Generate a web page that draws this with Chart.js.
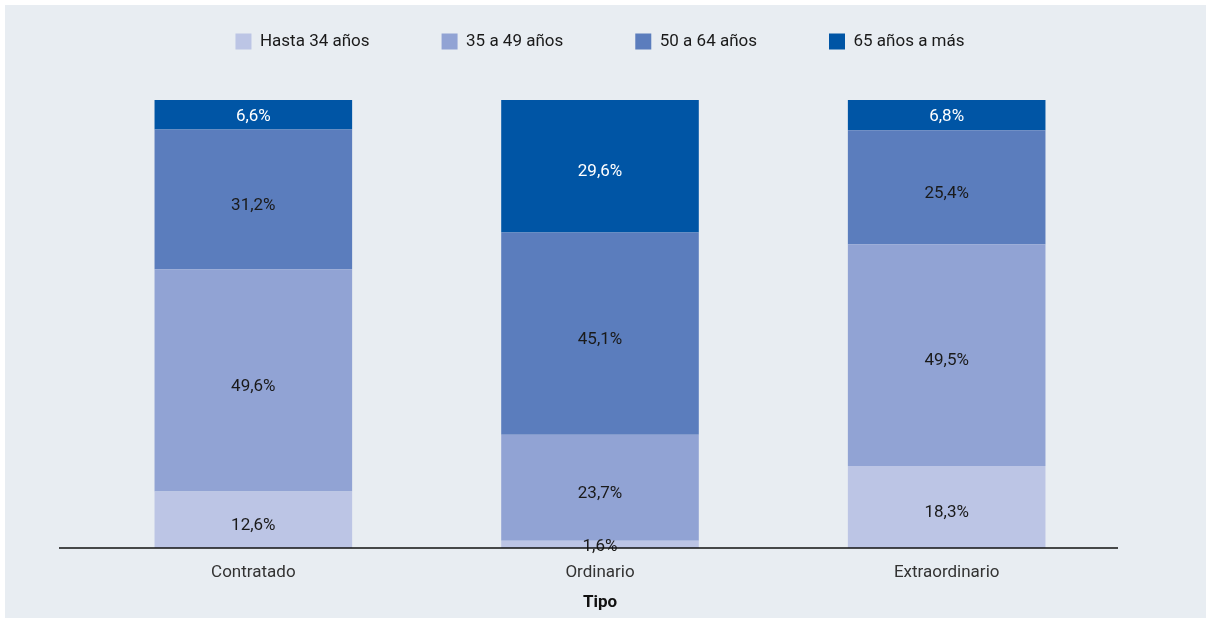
<!DOCTYPE html>
<html>
<head>
<meta charset="utf-8">
<script src="https://cdn.jsdelivr.net/npm/chart.js@4"></script>
<style>
    html, body { margin: 0; padding: 0; background: #fff; }
    #wrap { position: absolute; left: 5px; top: 5px; width: 1201px; height: 613px; background: #e8edf2; }
</style>
</head>
<body>
<div id="wrap"><canvas id="chart.area"></canvas></div>
<script>
const categories = ['Contratado', 'Ordinario', 'Extraordinario'];
const seriesNames = ['Hasta 34 años', '35 a 49 años', '50 a 64 años', '65 años a más'];
const hasta34 = [12.6, 1.6, 18.3];
const de35a49 = [49.6, 23.7, 49.5];
const de50a64 = [31.2, 45.1, 25.4];
const de65mas = [6.6, 29.6, 6.8];
const colors = ['#bcc5e5', '#91a3d4', '#5b7dbd', '#0055a5'];

const FONT = 'Roboto, "Noto Sans", sans-serif';

// labels inside each segment
const segmentLabels = {
    id: 'segmentLabels',
    afterDatasetsDraw(chart) {
        const ctx = chart.ctx;
        ctx.save();
        ctx.font = '17px ' + FONT;
        ctx.textAlign = 'center';
        ctx.textBaseline = 'middle';
        chart.data.datasets.forEach((ds, i) => {
            const meta = chart.getDatasetMeta(i);
            meta.data.forEach((bar, j) => {
                const v = ds.data[j];
                ctx.fillStyle = i === 3 ? '#ffffff' : '#1a1a1a';
                const h = Math.abs(bar.base - bar.y);
                const y = (bar.y + bar.base) / 2 + (h > 40 ? 6 : 2);
                ctx.fillText(v.toFixed(1).replace('.', ',') + '%', bar.x, y);
            });
        });
        ctx.restore();
    }
};

// baseline a bit wider than the bars area
const baseLine = {
    id: 'baseLine',
    afterDraw(chart) {
        const a = chart.chartArea;
        const ctx = chart.ctx;
        ctx.save();
        ctx.strokeStyle = '#111';
        ctx.lineWidth = 1.5;
        ctx.beginPath();
        ctx.moveTo(a.left - 21, a.bottom);
        ctx.lineTo(a.right - 2, a.bottom);
        ctx.stroke();
        ctx.restore();
    }
};

const seriesData = [hasta34, de35a49, de50a64, de65mas];

const config = {
    type: 'bar',
    data: {
        labels: categories,
        datasets: seriesNames.map((name, i) => ({
            label: name,
            data: seriesData[i],
            backgroundColor: colors[i],
            borderWidth: 0,
            categoryPercentage: 1,
            barPercentage: 0.57
        }))
    },
    options: {
        responsive: true,
        maintainAspectRatio: false,
        animation: false,
        layout: {
            padding: { left: 75, right: 86, top: -44, bottom: 7 }
        },
        plugins: {
            legend: {
                position: 'top',
                labels: {
                    boxWidth: 16,
                    boxHeight: 16,
                    padding: 72,
                    color: '#1a1a1a',
                    font: { family: FONT, size: 17 }
                }
            },
            tooltip: { enabled: false }
        },
        scales: {
            x: {
                stacked: true,
                grid: { display: false, drawTicks: false },
                border: { display: false },
                ticks: {
                    color: '#333',
                    padding: 16,
                    font: { family: FONT, size: 17, lineHeight: 1 }
                },
                title: {
                    display: true,
                    text: 'Tipo',
                    color: '#111',
                    padding: { top: -3, bottom: 0 },
                    font: { family: FONT, size: 17, weight: 'bold', lineHeight: 1 }
                }
            },
            y: {
                stacked: true,
                display: false,
                min: 0,
                max: 108.9
            }
        }
    },
    plugins: [segmentLabels, baseLine]
};
const chart = new Chart(document.getElementById('chart.area'), config);
</script>
</body>
</html>
